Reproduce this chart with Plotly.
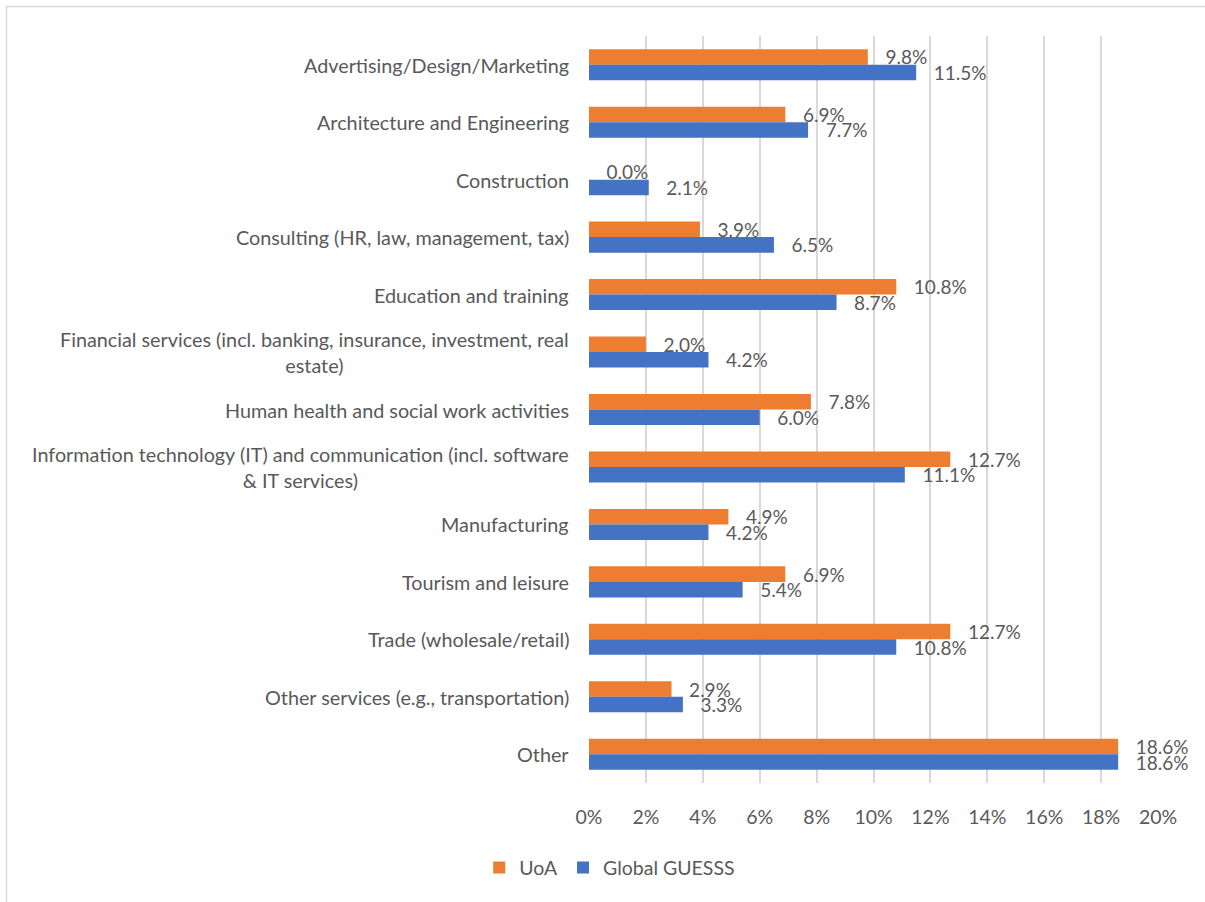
import plotly.graph_objects as go

# Sectors of founded businesses, share of respondents per sector
categories = [
    "Advertising/Design/Marketing",
    "Architecture and Engineering",
    "Construction",
    "Consulting (HR, law, management, tax)",
    "Education and training",
    "Financial services (incl. banking, insurance, investment, real<br>estate)",
    "Human health and social work activities",
    "Information technology (IT) and communication (incl. software<br>& IT services)",
    "Manufacturing",
    "Tourism and leisure",
    "Trade (wholesale/retail)",
    "Other services (e.g., transportation)",
    "Other",
]
uoa = [9.8, 6.9, 0.0, 3.9, 10.8, 2.0, 7.8, 12.7, 4.9, 6.9, 12.7, 2.9, 18.6]
global_guesss = [11.5, 7.7, 2.1, 6.5, 8.7, 4.2, 6.0, 11.1, 4.2, 5.4, 10.8, 3.3, 18.6]
x_ticks = [0, 2, 4, 6, 8, 10, 12, 14, 16, 18, 20]
x_tick_labels = [f"{t}%" for t in x_ticks]

FONT = "Lato, 'Open Sans', sans-serif"
TEXT = "#595959"
GRID = "#d9d9d9"
PAD = "\u00a0\u00a0\u00a0"

fig = go.Figure()
for name, vals, color in [("UoA", uoa, "#ED7D31"),
                          ("Global GUESSS", global_guesss, "#4472C4")]:
    fig.add_trace(go.Bar(
        name=name, y=categories, x=vals, orientation="h",
        marker=dict(color=color, line=dict(width=0)),
        text=[f"{PAD}{v:.1f}%" for v in vals],
        textposition="outside", constraintext="none", cliponaxis=False,
        textfont=dict(family=FONT, size=19, color=TEXT),
        hoverinfo="x+y",
    ))

# category labels, right-aligned block with centred lines
for c in categories:
    fig.add_annotation(
        x=0, xref="paper", xanchor="right", xshift=-18,
        y=c, yref="y", yanchor="middle",
        text=c, showarrow=False, align="center",
        font=dict(family=FONT, size=19.8, color=TEXT),
    )

# light frame around the chart
fig.add_shape(type="rect", xref="paper", yref="paper",
              x0=-1.0237, x1=2.0, y0=-1.0, y1=1.0395,
              line=dict(color=GRID, width=1.5), fillcolor="rgba(0,0,0,0)",
              layer="below")

fig.update_layout(
    width=1205, height=902,
    margin=dict(l=589, r=47, t=36, b=119),
    paper_bgcolor="white", plot_bgcolor="white",
    barmode="group", bargap=0.46, bargroupgap=0,
    font=dict(family=FONT, size=19.5, color=TEXT),
    showlegend=True,
    legend=dict(orientation="h", xref="container", yref="container",
                x=0.506, xanchor="center", y=0.038, yanchor="middle",
                font=dict(family=FONT, size=19.5, color=TEXT),
                traceorder="normal", itemwidth=30),
    xaxis=dict(range=[0, 20], tickvals=x_ticks, ticktext=x_tick_labels,
               showgrid=True, gridcolor=GRID, gridwidth=2,
               zeroline=False, showline=False, ticks="",
               ticklabelstandoff=20,
               tickfont=dict(family=FONT, size=19.5, color=TEXT)),
    yaxis=dict(autorange="reversed", showticklabels=False, showgrid=False,
               zeroline=False, showline=False, ticks=""),
)

fig.write_html("out.html")
